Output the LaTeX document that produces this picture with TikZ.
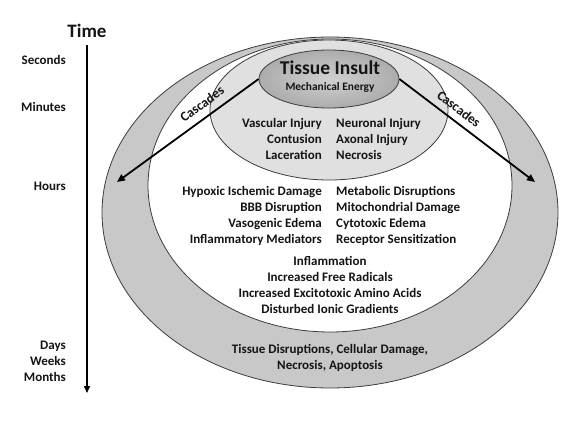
\documentclass[tikz,border=0pt]{standalone}
\usepackage{fontspec}
\setmainfont{Carlito}
\usetikzlibrary{shapes.geometric,arrows.meta}
\definecolor{ringc}{RGB}{200,200,200}
\definecolor{innerc}{RGB}{224,224,224}
\definecolor{topin}{RGB}{208,208,208}
\definecolor{topout}{RGB}{172,172,172}
\definecolor{linec}{RGB}{60,60,60}
\definecolor{textc}{RGB}{20,20,20}
\begin{document}
\begin{tikzpicture}[x=1pt,y=1pt,
  font=\bfseries\fontsize{13}{16}\selectfont,
  ell/.style={ellipse, draw=linec, line width=0.8pt, inner sep=0pt},
  txt/.style={inner sep=0pt, text=textc},
  arr/.style={line width=1.8pt, draw=black, -{Triangle[length=8pt,width=7pt]}},
  tarr/.style={line width=1.5pt, draw=black, -{Triangle[length=7pt,width=6pt]}}]
\useasboundingbox (0,0) rectangle (574,-423);
% ellipses
\node[ell, fill=ringc, minimum width=456pt, minimum height=351pt] (outer) at (330,-212.5) {};
\node[ell, fill=white, minimum width=364pt, minimum height=293pt] (middle) at (330,-185.5) {};
\node[ell, fill=innerc, minimum width=238pt, minimum height=140pt] (inner) at (329,-110) {};
\node[ell, shading=radial, inner color=topin, outer color=topout, minimum width=140pt, minimum height=58pt] (top) at (329,-79) {};
% cascade arrows
\coordinate (lt) at (117,-182);
\coordinate (rt) at (535,-182);
\draw[arr] (top.west) -- (lt);
\draw[arr] (top.east) -- (rt);
\node[txt, rotate=36.6, font=\bfseries\fontsize{13.5}{16}\selectfont] (cl) at (202,-104) {Cascades};
\node[txt, rotate=-37.8, font=\bfseries\fontsize{13.5}{16}\selectfont] (cr) at (459,-109) {Cascades};
% top texts
\node[txt, font=\bfseries\fontsize{19.5}{22}\selectfont] (ti) at (330,-68) {Tissue Insult};
\node[txt, font=\bfseries\fontsize{11.4}{13}\selectfont] (me) at (330,-87) {Mechanical Energy};
% inner
\node[txt, anchor=east, align=right] (injL) at (322,-139) {Vascular Injury\\Contusion\\Laceration};
\node[txt, anchor=west, align=left] (injR) at (336,-139) {Neuronal Injury\\Axonal Injury\\Necrosis};
% middle
\node[txt, anchor=east, align=right] (midL) at (322,-215.5) {Hypoxic Ischemic Damage\\BBB Disruption\\Vasogenic Edema\\Inflammatory Mediators};
\node[txt, anchor=west, align=left] (midR) at (336,-215.5) {Metabolic Disruptions\\Mitochondrial Damage\\Cytotoxic Edema\\Receptor Sensitization};
\node[txt, align=center] (cen) at (330,-285) {Inflammation\\Increased Free Radicals\\Increased Excitotoxic Amino Acids\\Disturbed Ionic Gradients};
% outer ring
\node[txt, align=center] (bot) at (330,-358) {Tissue Disruptions, Cellular Damage,\\Necrosis, Apoptosis};
% time axis
\node[txt, font=\bfseries\fontsize{19}{22}\selectfont] (time) at (87,-31) {Time};
\coordinate (t0) at (87,-45);
\coordinate (t1) at (87,-393);
\draw[tarr] (t0) -- (t1);
\node[txt, anchor=east] (sec) at (66,-60) {Seconds};
\node[txt, anchor=east] (min) at (66,-107) {Minutes};
\node[txt, anchor=east] (hrs) at (66,-186) {Hours};
\node[txt, anchor=east, align=right] (dwm) at (66,-361) {Days\\Weeks\\Months};
\end{tikzpicture}
\end{document}
